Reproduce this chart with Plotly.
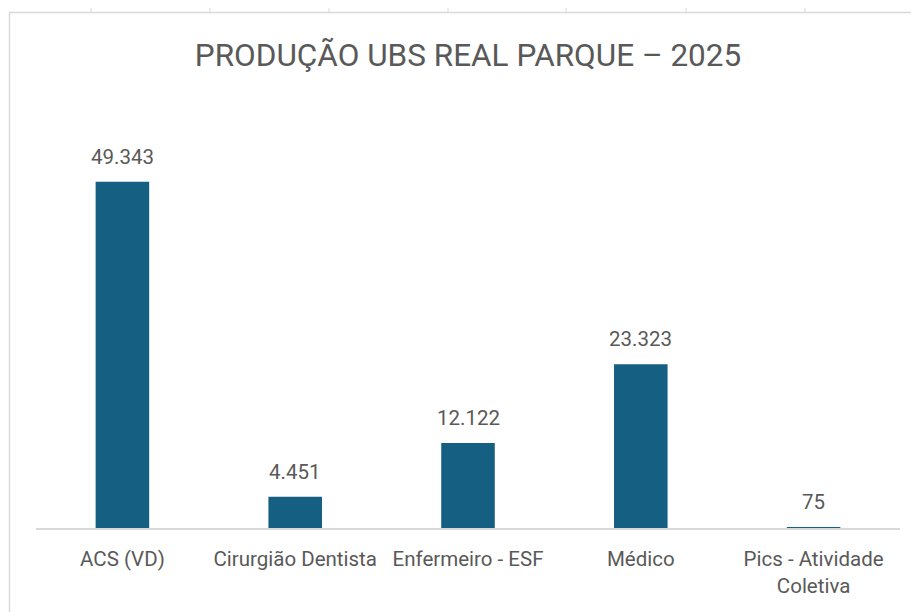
import plotly.graph_objects as go

categories = ["ACS (VD)", "Cirurgião Dentista", "Enfermeiro - ESF", "Médico", "Pics - Atividade Coletiva"]
tick_labels = ["ACS (VD)", "Cirurgião Dentista", "Enfermeiro - ESF", "Médico", "Pics - Atividade<br>Coletiva"]
values = [49343, 4451, 12122, 23323, 75]
title_text = "PRODUÇÃO UBS REAL PARQUE – 2025"

# page has an 8px body margin, so the figure is drawn at (8, 8)
OFF = 8
W, H = 919 - OFF, 612 - OFF
ML, MR, MT, MB = 36 - OFF, 19, 107 - OFF, 84
FONT = "Roboto"
GRAY = "#595959"
LINE = "#d9d9d9"
BAR = "#156082"

def fmt(v):
    return f"{v:,}".replace(",", ".")

fig = go.Figure()
fig.add_trace(go.Bar(
    x=categories, y=values,
    marker=dict(color=BAR, line=dict(width=0)),
    hoverinfo="skip",
))

for c, v in zip(categories, values):
    fig.add_annotation(
        x=c, y=v, text=fmt(v), showarrow=False,
        yanchor="bottom", yshift=11,
        font=dict(family=FONT, size=20.5, color=GRAY),
    )

pw = W - ML - MR
ph = H - MT - MB
def px_x(x):  # screen px -> paper
    return (x - OFF - ML) / pw
def px_y(y):
    return (H - MB - (y - OFF)) / ph

shapes = []
shapes.append(dict(type="line", xref="paper", yref="paper",
                   x0=px_x(9.5), x1=px_x(9.5), y0=px_y(12.5), y1=px_y(612),
                   line=dict(color=LINE, width=1.5)))
shapes.append(dict(type="line", xref="paper", yref="paper",
                   x0=px_x(9), x1=px_x(919), y0=px_y(12.5), y1=px_y(12.5),
                   line=dict(color=LINE, width=1.5)))
for tx in [91, 210, 329, 448, 566, 686, 805]:
    shapes.append(dict(type="line", xref="paper", yref="paper",
                       x0=px_x(tx), x1=px_x(tx), y0=px_y(8), y1=px_y(12.5),
                       line=dict(color=LINE, width=1)))

fig.update_layout(
    width=W, height=H,
    margin=dict(l=ML, r=MR, t=MT, b=MB, pad=0),
    paper_bgcolor="white", plot_bgcolor="white",
    bargap=0.69,
    showlegend=False,
    title=dict(text=title_text, x=(468 - OFF) / W, xanchor="center",
               y=1 - (54.5 - OFF) / H, yanchor="middle", yref="container", xref="container",
               font=dict(family=FONT, size=31.5, color=GRAY)),
    xaxis=dict(tickmode="array", tickvals=categories, ticktext=tick_labels,
               showline=True, linecolor=LINE, linewidth=1.5,
               ticks="", showgrid=False, zeroline=False,
               ticklabelstandoff=12,
               tickfont=dict(family=FONT, size=20.5, color=GRAY)),
    yaxis=dict(range=[0, 60000], visible=False, showgrid=False, zeroline=False),
    shapes=shapes,
    font=dict(family=FONT, color=GRAY),
)

fig.write_html("out.html")
